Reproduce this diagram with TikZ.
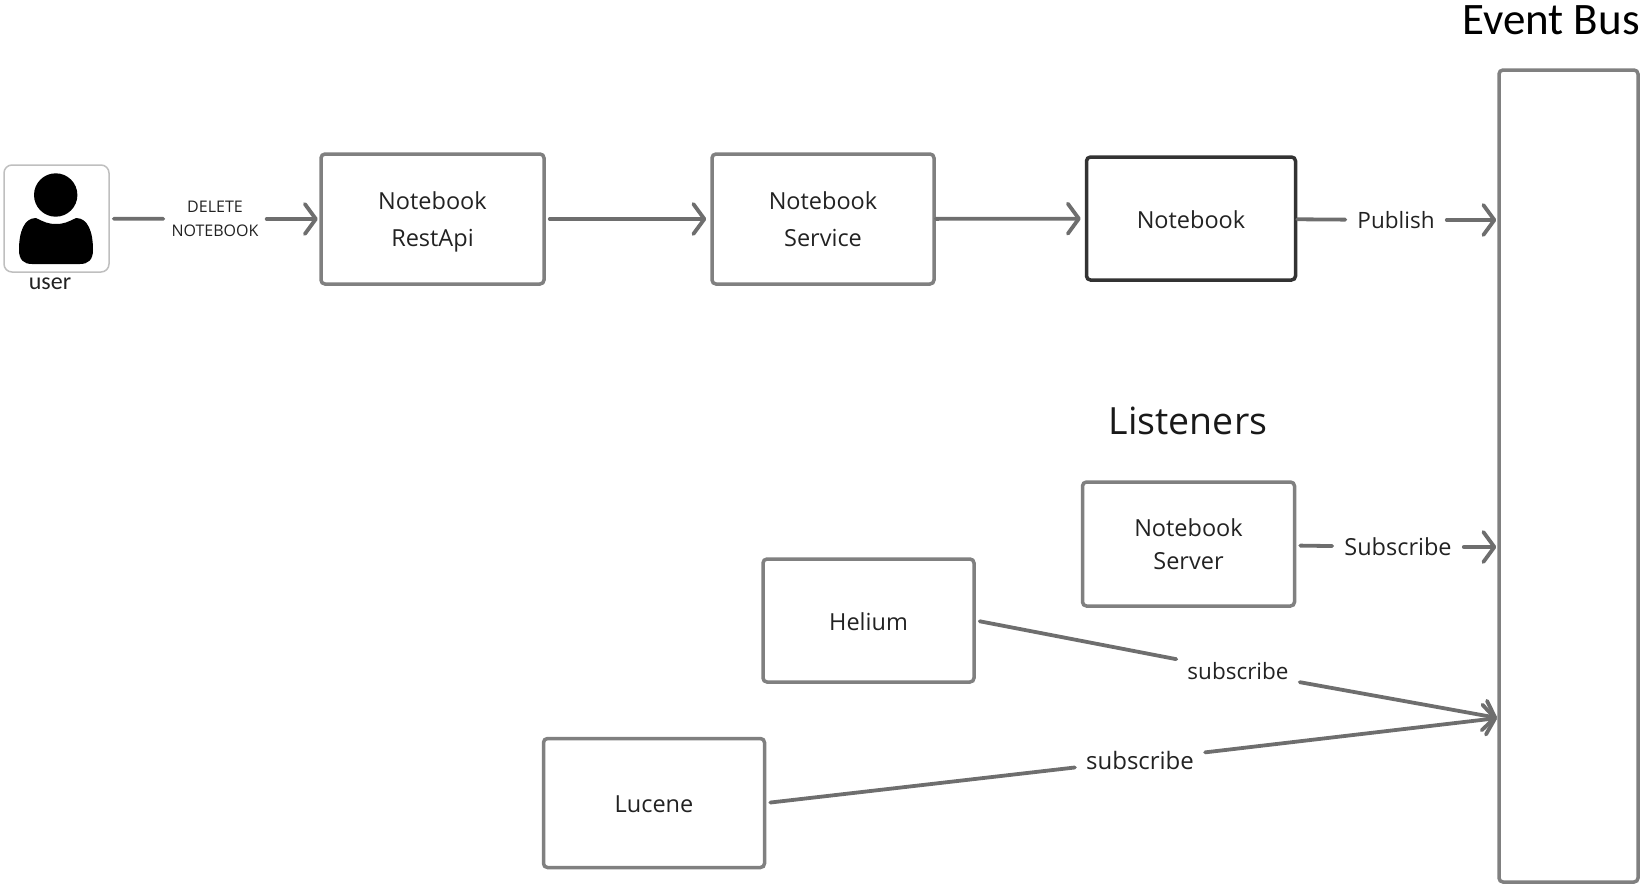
\documentclass[tikz,border=0pt]{standalone}
\usepackage{fontspec}
\usepackage{xcolor}
\usetikzlibrary{arrows.meta,positioning,calc}
\setmainfont{Open Sans}
\newfontfamily\calfont{Carlito}
\definecolor{buslight}{HTML}{808080}
\definecolor{busline}{HTML}{6E6E6E}
\definecolor{busdark}{HTML}{333333}
\definecolor{bustext}{HTML}{222222}
\begin{document}
\begin{tikzpicture}[
  x=1pt,y=-1pt,
  box/.style={draw=buslight,line width=3.5pt,rounded corners=4pt,align=center,text=bustext,font=\fontsize{23.5}{37}\selectfont,inner sep=0pt},
  pad/.style={execute at begin node={\rule{0pt}{#1}}},
  lbl/.style={text=bustext,font=\fontsize{22.5}{26}\selectfont,inner xsep=11pt,inner ysep=4pt},
  arr/.style={-{Straight Barb[length=11pt,width=30pt,round]},line width=3.8pt,busline,line cap=round,shorten <=4pt,shorten >=4pt},
  lin/.style={line width=3.8pt,busline,line cap=round,shorten <=4pt}
]
\useasboundingbox (0,0) rectangle (1641,884);

\node[draw=black!25,line width=1.5pt,rounded corners=8pt,minimum width=105pt,minimum height=107pt] (user) at (56.5,218.5) {};
\fill[black] (55.7,195) circle (21.7);
\fill[black] (36,218) .. controls (44,222) and (48,224) .. (56,224) .. controls (64,224) and (68,222) .. (76,218)
  .. controls (88,218) and (93,232) .. (93,250) .. controls (93,260) and (88,264) .. (80,264) -- (32,264)
  .. controls (24,264) and (19,260) .. (19,250) .. controls (19,232) and (24,218) .. (36,218) -- cycle;
\node[font=\calfont\fontsize{24}{28}\selectfont,inner sep=0pt,text=bustext] (userlbl) at (50,284) {user};

\node[box,minimum width=223pt,minimum height=130pt] (restapi) at (432.5,219) {Notebook\\\smash{RestApi}};
\node[box,minimum width=222pt,minimum height=130pt] (service) at (823,219) {Notebook\\Service};
\node[box,pad=21pt,draw=busdark,minimum width=209pt,minimum height=123pt] (notebook) at (1191,218.5) {Notebook};
\node[box,minimum width=212pt,minimum height=124pt,font=\fontsize{23.5}{33.5}\selectfont] (nbserver) at (1188.5,544) {Notebook\\Server};
\node[box,pad=19.5pt,minimum width=211pt,minimum height=123pt] (helium) at (868.5,620.5) {Helium};
\node[box,pad=19pt,minimum width=221pt,minimum height=129pt] (lucene) at (654,803) {Lucene};
\node[box,minimum width=139pt,minimum height=812pt] (bus) at (1568.5,476) {};

\node[font=\calfont\fontsize{45}{52}\selectfont,inner sep=0pt,text=black] (bustitle) at (1551,20) {Event Bus};
\node[font=\fontsize{37.5}{44}\selectfont,inner sep=0pt,text=black!90] (listeners) at (1188,421) {Listeners};

\node[font=\fontsize{16}{24}\selectfont,align=center,text=bustext,inner sep=2pt,inner xsep=8pt] (deletelbl) at (215,219) {DELETE\\NOTEBOOK};
\node[lbl,inner xsep=12pt] (publish) at (1396,220) {Publish};
\node[lbl,font=\fontsize{23.5}{26}\selectfont,inner xsep=12pt] (subscribe) at (1398,547) {Subscribe};
\node[lbl] (subhelium) at (1238,671) {subscribe};
\node[lbl,font=\fontsize{24}{28}\selectfont] (sublucene) at (1140,760) {subscribe};

\coordinate (pubend) at (bus.west |- publish);
\coordinate (subend) at (bus.west |- subscribe);
\coordinate (listend) at (1498,718);

\draw[lin] (user) -- (deletelbl);
\draw[arr,shorten <=0pt,shorten >=1.5pt] (deletelbl) -- (restapi);
\draw[arr] (restapi) -- (service);
\draw[arr,shorten <=0pt] (service) -- (notebook);
\draw[lin,shorten <=0pt] (notebook) -- (publish);
\draw[arr,shorten <=0pt,shorten >=1pt] (publish) -- (pubend);
\draw[lin] (nbserver) -- (subscribe);
\draw[arr,shorten <=0pt,shorten >=1pt] (subscribe) -- (subend);
\draw[lin] (helium.east) -- (subhelium);
\draw[arr,shorten <=0pt,shorten >=1pt] (subhelium) -- (listend);
\draw[lin] (lucene.east) -- (sublucene);
\draw[arr,shorten <=0pt,shorten >=1pt] (sublucene) -- (listend);
\end{tikzpicture}
\end{document}
